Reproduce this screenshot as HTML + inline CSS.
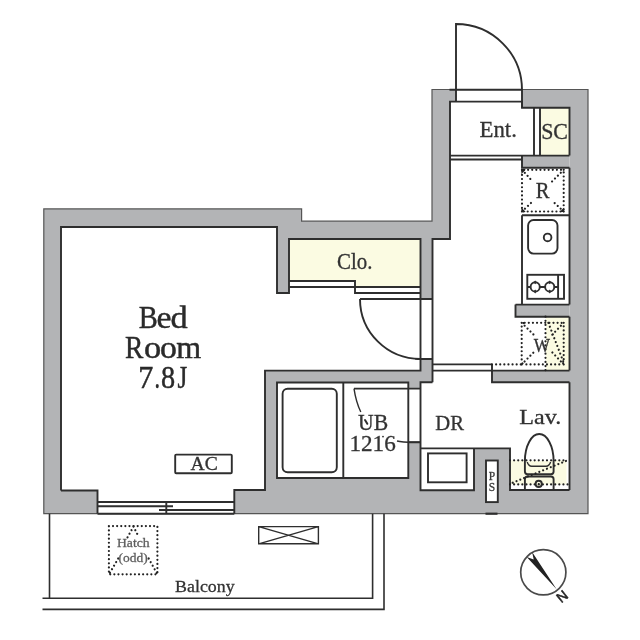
<!DOCTYPE html>
<html><head><meta charset="utf-8"><style>
html,body{margin:0;padding:0;background:#fff;width:640px;height:640px;overflow:hidden}
svg{display:block;will-change:transform}
text{font-family:"Liberation Serif",serif;fill:#333}
</style></head><body>
<svg width="640" height="640" viewBox="0 0 640 640">
<rect width="640" height="640" fill="#fff"/>
<!-- building gray -->
<path d="M43.8,208.9 H301.6 V221.2 H432 V89.5 H588 V513.7 H43.8 Z" fill="#b3b4b6" stroke="#555" stroke-width="1.2"/>
<!-- white rooms -->
<g fill="#fff">
<path d="M61,227 H277 V293 H289 V239 H420.5 V298.5 H432.5 V358.6 H420.5 V370.6 H265 V490 H234.3 V513.7 H97.5 V490.5 H61 Z"/>
<path d="M432.5,239 H450 V101.6 H456 V89.7 H522 V107.8 H569.5 V370.6 H432.5 Z"/>
<path d="M420.5,382.3 H432.5 V370.6 H492 V382.3 H569.5 V490 H510 V448.4 H474 V490.2 H420.5 Z"/>
<path d="M277,382.5 H408.3 V388.6 H420.5 V442.2 H408.3 V478 H277 Z"/>
</g>
<!-- interior gray pieces -->
<g fill="#b3b4b6">
<rect x="522" y="155.6" width="47.5" height="12.2"/>
<rect x="515.5" y="304.6" width="54" height="12.1"/>
</g>
<!-- yellow fills -->
<g fill="#fbfbe2">
<path d="M289,239 H420.5 V287 H355 V281 H289 Z"/>
<rect x="540" y="107.8" width="29.5" height="47.8"/>
<rect x="546" y="316.7" width="23.5" height="53.9"/>
<rect x="510" y="460.3" width="56.5" height="24.1"/>
</g>
<!-- dark lines -->
<g fill="none" stroke="#2e2e2e" stroke-width="1.9" stroke-linejoin="miter">
<path d="M61,490.5 V227 H277 V293 H289 V239 H420.5 V370.6 H265 V490 H234.3 V513.7"/>
<path d="M61,490.5 H97.5 V513.7"/>
<path d="M97.5,502 H234.3 M97.5,506.3 H173 M159,510 H234.3 M166.3,502 V513.7 M97.5,513.7 H234.3"/>
<path d="M289,281 H355 V293 H420.5 M289,287 H420.5"/>
<path d="M360,299 H432.5 M360,299 A60.5,60 0 0 0 420.5,359 M415,359 H432.5"/>
<path d="M432.5,382.3 V239 H450 V101.6 H522 V107.8 H569.5 V155.6"/>
<path d="M456,101.6 V24 A66,66 0 0 1 522,90 V107.8 M449.5,89.7 H522"/>
<path d="M534,107.8 V155.6 M540,107.8 V155.6"/>
<path d="M450,155.6 H569.5 M450,159.5 H522 M522,155.6 V167.8 H569.5"/>
<path d="M569.5,167.8 V304.6 M569.5,316.7 V370.6 M569.5,382.3 V490"/>
<path d="M522,215.3 H569.5 M522,215.3 V304.6 M515.5,304.6 H569.5 M515.5,304.6 V316.7 H569.5"/>
<path d="M432.5,364.4 H492 M492,364.4 V382.3 H569.5 M432.5,370.6 H569.5"/>
<path d="M432.5,382.3 H420.5 V490.2 H474 V448.4 M420.5,448.4 H510 V490 H569.5"/>
<rect x="428" y="453.4" width="38.6" height="28.9"/>
<path d="M277,382.5 H408.3 V478 H277 Z M343.3,382.5 V478"/>
<rect x="282.6" y="388.7" width="54.2" height="83.6" rx="5"/>
<path d="M354,388.6 H420.5 M408.3,442.2 H420.5"/>
<path d="M354,388.6 Q356,402 360.8,412" stroke-width="1.4"/><path d="M365,420 L367.3,423.8" stroke-width="2" stroke-linecap="round"/>
<path d="M397,441 Q403,442.6 420.5,442.2" stroke-width="1.4"/>
<circle cx="383" cy="436.6" r="0.9" fill="#2e2e2e" stroke="none"/>
<!-- sink -->
<rect x="528.1" y="220" width="29.4" height="33.6" rx="5.5"/>
<circle cx="547.6" cy="237.4" r="3.8"/>
<!-- stove -->
<rect x="527.3" y="274.8" width="36.7" height="24"/>
<path d="M558.1,274.8 V298.8 M527.3,287 H558.1"/>
<circle cx="535.2" cy="286.9" r="4.6" fill="#fff"/>
<circle cx="549.7" cy="286.9" r="4.6" fill="#fff"/>
<path d="M535.2,280.40000000000003 L536.8000000000001,282.3 L535.2,284.2 L533.6,282.3 Z M535.2,289.6 L536.8000000000001,291.5 L535.2,293.4 L533.6,291.5 Z M549.7,280.40000000000003 L551.3000000000001,282.3 L549.7,284.2 L548.1,282.3 Z M549.7,289.6 L551.3000000000001,291.5 L549.7,293.4 L548.1,291.5 Z" fill="#2e2e2e" stroke="none"/>
<!-- toilet -->
<path d="M524.9,461 A14.35,27 0 0 1 553.6,461" fill="#fff"/>
<path d="M524.9,460.3 V471.6 Q524.9,474.3 527.6,474.3 H550.9 Q553.6,474.3 553.6,471.6 V460.3"/>
<path d="M527.2,462 Q528.6,466.2 531.6,466.2 H546 Q549.2,466.2 550.6,462" stroke-width="1.4"/>
<path d="M524.9,490 V479.2 Q524.9,476.5 527.6,476.5 H550.9 Q553.6,476.5 553.6,479.2 V490"/>
<circle cx="538.7" cy="483.9" r="3.1" fill="#fbfbe2"/>
<circle cx="538.7" cy="483.9" r="0.9" fill="#2e2e2e" stroke="none"/>
<!-- AC -->
<rect x="175.2" y="454.6" width="56.6" height="18.6" rx="1"/>
<!-- balcony -->
<path d="M49.5,513.7 V598.3 M42.5,598.3 H372.6 V513.7 M42.5,609.4 H384 V513.7" stroke-width="1.6"/>
<!-- outdoor unit -->
<path d="M258.7,526.6 H318.4 V543.8 H258.7 Z M258.7,526.6 L318.4,543.8 M258.7,543.8 L318.4,526.6" stroke-width="1.4"/>
<!-- PS -->
<rect x="486" y="460.5" width="11.8" height="41.6" fill="#fff"/>
<path d="M485.5,513.7 H497.5" stroke-width="2.2"/>
</g>
<!-- dotted -->
<g fill="none" stroke="#222" stroke-width="2.2" stroke-dasharray="0.01 4.1" stroke-linecap="round">
<rect x="522" y="169.8" width="41.7" height="41.7" rx="2"/>
<path d="M522,169.8 L531.8,180.5 M563.7,169.8 L551.4,182.1 M522,211.5 L532,202 M563.7,211.5 L553.1,201.6"/>
<rect x="521.7" y="322.8" width="42" height="41.6" rx="3"/>
<path d="M545.5,316.7 V372 M521.7,322.8 L534,335 M563.7,322.8 L552,335 M521.7,364.4 L534,352 M563.7,364.4 L551,351 M548.4,322.9 L563.4,361.8"/>
<path d="M492,364.4 H521.7"/>
<path d="M510,460.3 H566.5 M510,484.4 H569.5 M566,461 L512,483"/>
<rect x="108.9" y="526.1" width="48.5" height="48.2"/>
<path d="M133.5,526.5 L127.4,537.5 M118.2,558.5 L109.5,573.5 M133.5,526.5 L139,537.5 M148.7,558.5 L157,573.5"/>
</g>
<path d="M559.6,211.9 L564.1,211.9 L564.1,207.4 Z M521.4,207.6 L521.4,211.9 L525.7,211.9 Z M521.4,173.9 L521.4,169.4 L525.9,169.4 Z" fill="#222"/>
<!-- compass -->
<circle cx="543.3" cy="572.3" r="22.6" fill="none" stroke="#4a4a4a" stroke-width="1.7"/>
<path d="M556.6,589.2 L526.7,557.0 L533.7,559.6 L532.1,552.0 Z" fill="#222"/>
<text x="0" y="5" font-size="14" transform="translate(562.3,596.6) rotate(140.7)" text-anchor="middle" style="fill:#222;stroke:#222;stroke-width:0.5;font-family:'Liberation Sans',sans-serif">N</text>
<!-- labels -->
<g id="labels">
<text id="clo" x="337.05" y="268.6" font-size="22.8" textLength="35.34" lengthAdjust="spacingAndGlyphs" style="fill:#333;stroke:#333;stroke-width:0.3">Clo.</text>
<text id="ent" x="479.50" y="137.1" font-size="22.5" textLength="37.35" lengthAdjust="spacingAndGlyphs" style="fill:#333;stroke:#333;stroke-width:0.3">Ent.</text>
<text id="sc" x="541.19" y="138.8" font-size="22.3" textLength="26.77" lengthAdjust="spacingAndGlyphs" style="fill:#333;stroke:#333;stroke-width:0.3">SC</text>
<text id="r" x="535.79" y="198.3" font-size="22.5" textLength="13.72" lengthAdjust="spacingAndGlyphs" style="fill:#333;stroke:#333;stroke-width:0.3">R</text>
<text id="w" x="533.85" y="351.6" font-size="19" textLength="16.23" lengthAdjust="spacingAndGlyphs" style="fill:#333;stroke:#333;stroke-width:0.3">W</text>
<text id="dr" x="435.34" y="429.7" font-size="21.4" textLength="28.69" lengthAdjust="spacingAndGlyphs" style="fill:#333;stroke:#333;stroke-width:0.3">DR</text>
<text id="lav" x="519.23" y="423.9" font-size="22" textLength="41.98" lengthAdjust="spacingAndGlyphs" style="fill:#333;stroke:#333;stroke-width:0.3">Lav.</text>
<text id="ub" x="357.98" y="430.3" font-size="22.3" textLength="30.17" lengthAdjust="spacingAndGlyphs" style="fill:#333;stroke:#333;stroke-width:0.3">UB</text>
<text id="n1216" x="349.44" y="451.4" font-size="22.4" textLength="46.28" lengthAdjust="spacingAndGlyphs" style="fill:#333;stroke:#333;stroke-width:0.3">1216</text>
<text id="ac" x="190.54" y="470.3" font-size="19.1" textLength="27.21" lengthAdjust="spacingAndGlyphs" style="fill:#333;stroke:#333;stroke-width:0.3">AC</text>
<text id="balc" x="175.13" y="591.5" font-size="17.5" textLength="59.45" lengthAdjust="spacingAndGlyphs" style="fill:#333;stroke:#333;stroke-width:0.3">Balcony</text>
<text id="hatch" x="116.99" y="546.7" font-size="13.5" textLength="32.68" lengthAdjust="spacingAndGlyphs" style="fill:#5e5e5e;stroke:#5e5e5e;stroke-width:0.3">Hatch</text>
<text id="odd" x="118.43" y="562.4" font-size="13.5" textLength="29.21" lengthAdjust="spacingAndGlyphs" style="fill:#5e5e5e;stroke:#5e5e5e;stroke-width:0.3">(odd)</text>
<g style="fill:#4a4a4a;stroke:#4a4a4a;stroke-width:0.3" font-size="11.5" text-anchor="middle"><text x="492" y="479.8">P</text><text x="492" y="491">S</text></g>
<text transform="translate(138.63,328.1) scale(0.905,1)" font-size="31.5" style="fill:#2a2a2a;stroke:#2a2a2a;stroke-width:0.45">B</text>
<text transform="translate(156.43,328.1) scale(1.072,1)" font-size="31.5" style="fill:#2a2a2a;stroke:#2a2a2a;stroke-width:0.45">e</text>
<text transform="translate(170.51,328.1) scale(1.089,1)" font-size="31.5" style="fill:#2a2a2a;stroke:#2a2a2a;stroke-width:0.45">d</text>
<text transform="translate(125.06,357.9) scale(0.881,1)" font-size="31.2" style="fill:#2a2a2a;stroke:#2a2a2a;stroke-width:0.45">R</text>
<text transform="translate(144.04,357.9) scale(1.104,1)" font-size="31.2" style="fill:#2a2a2a;stroke:#2a2a2a;stroke-width:0.45">o</text>
<text transform="translate(159.96,357.9) scale(1.081,1)" font-size="31.2" style="fill:#2a2a2a;stroke:#2a2a2a;stroke-width:0.45">o</text>
<text transform="translate(176.18,357.9) scale(1.025,1)" font-size="31.2" style="fill:#2a2a2a;stroke:#2a2a2a;stroke-width:0.45">m</text>
<text transform="translate(138.37,387.5) scale(0.956,1)" font-size="31.5" style="fill:#2a2a2a;stroke:#2a2a2a;stroke-width:0.45">7</text>
<text transform="translate(154.40,387.5) scale(0.699,1)" font-size="31.5" style="fill:#2a2a2a;stroke:#2a2a2a;stroke-width:0.45">.</text>
<text transform="translate(160.97,387.5) scale(0.899,1)" font-size="31.5" style="fill:#2a2a2a;stroke:#2a2a2a;stroke-width:0.45">8</text>
<text transform="translate(177.42,387.5) scale(0.796,1)" font-size="31.5" style="fill:#2a2a2a;stroke:#2a2a2a;stroke-width:0.45">J</text>
</g>
</svg>
</body></html>
